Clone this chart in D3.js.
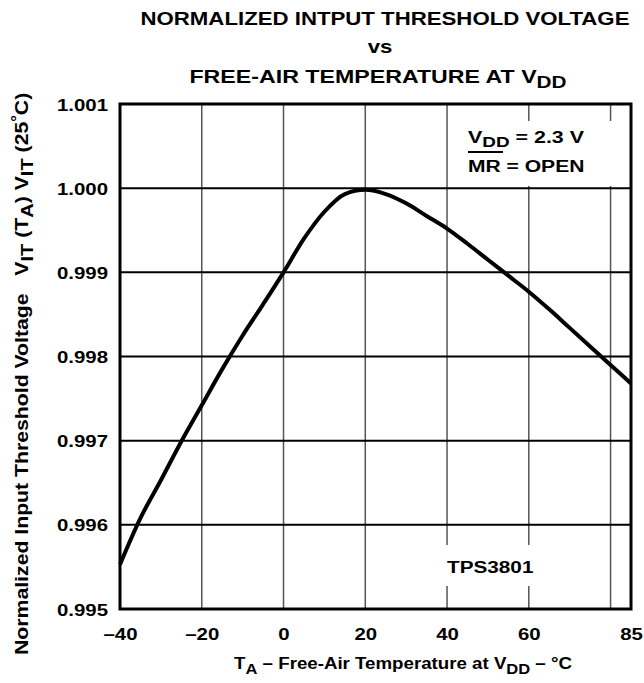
<!DOCTYPE html>
<html>
<head>
<meta charset="utf-8">
<script src="https://cdn.jsdelivr.net/npm/d3@7"></script>
<style>
  html, body { margin: 0; padding: 0; background: #fff; }
  svg { display: block; }
  text { font-family: "Liberation Sans", Arial, Helvetica, sans-serif; font-weight: bold; fill: #000; }
</style>
</head>
<body>
<svg id="chart" width="644" height="683"></svg>
<script>
// ---- Data ----
const temperatures = [-40, -35, -30, -25, -20, -15, -10, -5, 0, 5, 10, 15, 20, 25, 30, 35, 40, 45, 50, 55, 60, 65, 70, 75, 80, 85];
const normalizedVIT = [0.99553, 0.99608, 0.99653, 0.99699, 0.99742, 0.99785, 0.99825, 0.99862, 0.99900, 0.99940, 0.99972, 0.99993, 0.99998, 0.99993, 0.99982, 0.99967, 0.99952, 0.99934, 0.99915, 0.99896, 0.99877, 0.99856, 0.99834, 0.99812, 0.99790, 0.99768];
const xTickValues = [-40, -20, 0, 20, 40, 60, 85];
const xTickLabels = ["\u201340", "\u201320", "0", "20", "40", "60", "85"];
const xGridValues = [-20, 0, 20, 40, 60, 80];
const yTickValues = [0.995, 0.996, 0.997, 0.998, 0.999, 1.000, 1.001];
const yTickLabels = ["0.995", "0.996", "0.997", "0.998", "0.999", "1.000", "1.001"];
const titleLines = ["NORMALIZED INTPUT THRESHOLD VOLTAGE", "vs", "FREE-AIR TEMPERATURE AT V"];

const svg = d3.select("#chart");
const pLeft = 120, pRight = 631, pTop = 104, pBottom = 609;
const x = d3.scaleLinear().domain([-40, 85]).range([pLeft, pRight]);
const y = d3.scaleLinear().domain([0.995, 1.001]).range([pBottom, pTop]);
const SX = 1.2; // horizontal stretch of the lettering

function stretched(g, px, py, size, anchor, k, rot) {
  return g.append("text")
    .attr("transform", `translate(${px},${py})` + (rot ? ` rotate(${rot})` : "") + ` scale(${k},1)`)
    .attr("font-size", size)
    .attr("text-anchor", anchor);
}

// ---- Title ----
const tg = svg.append("g");
stretched(tg, 385, 25, 19, "middle", 1.17).text(titleLines[0]);
stretched(tg, 380, 53, 19, "middle", 1.17).text(titleLines[1]);
const t3 = stretched(tg, 378, 83, 19, "middle", 1.22);
t3.append("tspan").text(titleLines[2]);
t3.append("tspan").attr("dy", 5).attr("font-size", 17).text("DD");

// ---- Grid ----
const grid = svg.append("g");
grid.selectAll("line.v").data(xGridValues).join("line").attr("class", "v")
  .attr("x1", d => x(d)).attr("x2", d => x(d))
  .attr("y1", pTop).attr("y2", pBottom)
  .attr("stroke", "#555").attr("stroke-width", 1.5);
grid.selectAll("line.h").data(yTickValues.slice(1, -1)).join("line").attr("class", "h")
  .attr("x1", pLeft).attr("x2", pRight)
  .attr("y1", d => y(d)).attr("y2", d => y(d))
  .attr("stroke", "#000").attr("stroke-width", 2);

// white knockouts behind the annotations
svg.append("rect").attr("x", x(42)).attr("y", 121).attr("width", x(83) - x(42)).attr("height", 65).attr("fill", "#fff");
svg.append("rect").attr("x", x(38)).attr("y", 545).attr("width", x(62) - x(38)).attr("height", 41).attr("fill", "#fff");

// ---- Axes (tick labels) ----
const xAxis = d3.axisBottom(x).tickValues(xTickValues).tickSize(0).tickPadding(0)
  .tickFormat((d, i) => xTickLabels[i]);
const gx = svg.append("g").attr("transform", `translate(0,${pBottom})`).call(xAxis);
gx.select(".domain").remove();
gx.selectAll("text")
  .attr("font-size", 17).attr("dy", null).attr("y", 0).attr("x", 0)
  .attr("transform", `translate(0,31) scale(${SX},1)`);
gx.attr("font-family", null).attr("font-size", null);

const yAxis = d3.axisLeft(y).tickValues(yTickValues).tickSize(0).tickPadding(0)
  .tickFormat((d, i) => yTickLabels[i]);
const gy = svg.append("g").attr("transform", `translate(${pLeft},0)`).call(yAxis);
gy.select(".domain").remove();
gy.selectAll("text")
  .attr("font-size", 17).attr("dy", "0.36em").attr("x", 0).attr("y", 0)
  .attr("transform", `translate(-12,0) scale(${SX},1)`);
gy.attr("font-family", null).attr("font-size", null);

// ---- Curve ----
const pts = temperatures.map((t, i) => [t, normalizedVIT[i]]);
svg.append("path")
  .datum(pts)
  .attr("fill", "none").attr("stroke", "#000").attr("stroke-width", 4)
  .attr("stroke-linejoin", "round")
  .attr("d", d3.line().x(d => x(d[0])).y(d => y(d[1])).curve(d3.curveMonotoneX));

// ---- Frame ----
svg.append("rect").attr("x", pLeft).attr("y", pTop).attr("width", pRight - pLeft).attr("height", pBottom - pTop)
  .attr("fill", "none").attr("stroke", "#000").attr("stroke-width", 3);

// ---- Annotations ----
const ag = svg.append("g");
const l1 = stretched(ag, 468, 143, 17, "start", 1.26);
l1.append("tspan").text("V");
l1.append("tspan").attr("dy", 4).attr("font-size", 15).text("DD");
l1.append("tspan").attr("dy", -4).text(" = 2.3 V");
stretched(ag, 468, 172, 17, "start", 1.24).text("MR = OPEN");
ag.append("line").attr("x1", 468).attr("x2", 503).attr("y1", 152).attr("y2", 152)
  .attr("stroke", "#000").attr("stroke-width", 2);
stretched(ag, 447, 573, 17, "start", 1.22).text("TPS3801");

// ---- Axis titles ----
const xl = stretched(svg, 403, 669, 17, "middle", 1.1);
xl.append("tspan").text("T");
xl.append("tspan").attr("dy", 5).attr("font-size", 15).text("A");
xl.append("tspan").attr("dy", -5).text(" \u2013 Free-Air Temperature at V");
xl.append("tspan").attr("dy", 5).attr("font-size", 15).text("DD");
xl.append("tspan").attr("dy", -5).text(" \u2013 \u00B0C");

const yl = stretched(svg, 28, 655, 18, "start", 1.18, -90);
yl.append("tspan").text("Normalized Input Threshold Voltage\u00A0\u00A0\u00A0V");
yl.append("tspan").attr("dy", 5).attr("font-size", 17).text("IT");
yl.append("tspan").attr("dy", -5).text(" (T");
yl.append("tspan").attr("dy", 5).attr("font-size", 17).text("A");
yl.append("tspan").attr("dy", -5).text(") V");
yl.append("tspan").attr("dy", 5).attr("font-size", 17).text("IT");
yl.append("tspan").attr("dy", -5).text(" (25");
yl.append("tspan").attr("dy", -6).attr("font-size", 14).text("\u00B0");
yl.append("tspan").attr("dy", 6).text("C)");
</script>
</body>
</html>
